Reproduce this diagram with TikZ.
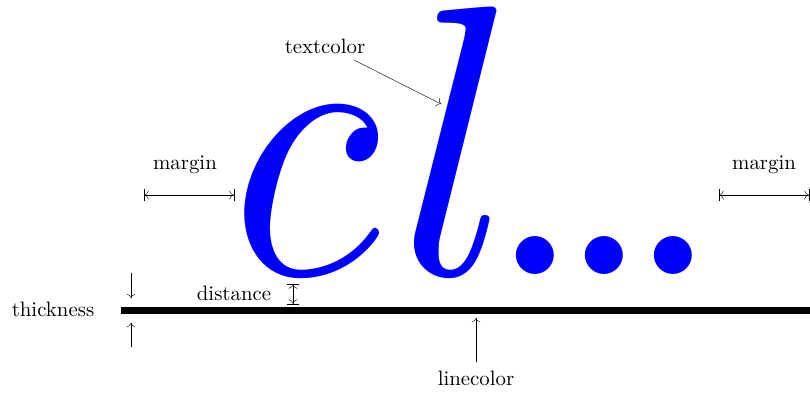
\documentclass[tikz,border=0pt]{standalone}
\usepackage{amsmath, amssymb}
\usepackage{tikz}
\usetikzlibrary{calc, arrows.meta}
\usepackage{tkz-euclide}

\begin{document}
\begin{tikzpicture}[x=0.48pt, y=-0.48pt, line cap=butt]
                \useasboundingbox (0,0) rectangle (810,392);
                \tkzDefPoints{121/310.5/L, 810/310.5/R}
                \tkzDefPoints{131/273/TA, 131/298/TB, 131/347/TC, 131/323/TD}
                \tkzDefPoints{293/284/DA, 293/304/DB}
                \tkzDefPoints{144/195/MA, 234/195/MB, 719/195/MC, 809/195/MD}
                \tkzDefPoints{354/60/CA, 441/104/CB, 476/362/LA, 476/318/LB}
                \node[anchor=base west, inner sep=0pt, text=blue] (word) at (230,274) {\scalebox{18.5}{$\scalebox{0.9}[1]{$c$}\mkern0.8mu l\mkern-1.6mu\scalebox{0.93}{$.\mkern-1.54mu.\mkern-1.54mu.$}$}};
                \tkzDrawSegment[line width=2.9pt, line cap=butt](L,R)
                \tkzDrawSegments[-To](TA,TB TC,TD CA,CB LA,LB)
                \tkzDrawSegments[{Bar[width=6pt] To[]}-{To[] Bar[width=6pt]}](DA,DB MA,MB MC,MD)
                \node (thick) at (53,309) {thickness};
                \node (dist) at (234,293) {distance};
                \node (margl) at (185,165) {margin};
                \node (margr) at (764,165) {margin};
                \node (tcol) at (325,46) {textcolor};
                \node (lcol) at (476,378) {linecolor};
            \end{tikzpicture}
\end{document}
